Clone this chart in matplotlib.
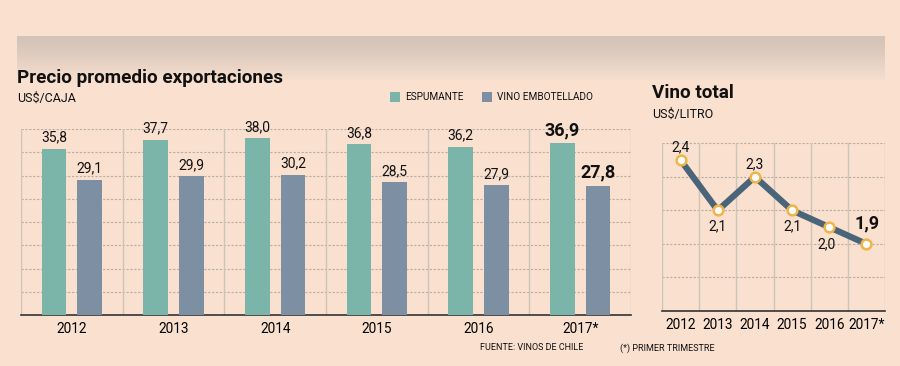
import numpy as np
import matplotlib
matplotlib.use("Agg")
import matplotlib.pyplot as plt

years = ["2012", "2013", "2014", "2015", "2016", "2017*"]
espumante = [35.8, 37.7, 38.0, 36.8, 36.2, 36.9]
embotellado = [29.1, 29.9, 30.2, 28.5, 27.9, 27.8]
vino_total = [2.4, 2.1, 2.3, 2.1, 2.0, 1.9]
vino_labels = ["2,4", "2,1", "2,3", "2,1", "2,0", "1,9"]

BG = "#F9E0CF"
GREEN = "#7BB5A9"
BLUE = "#7D90A3"
LINE = "#4A6579"
ORANGE = "#F0B448"
GRID = "#B8ADA4"
VLINE = "#CFC3B8"
FONT = ["Roboto", "DejaVu Sans"]

W, H = 900, 366
fig = plt.figure(figsize=(9, 3.66), dpi=100, facecolor=BG)


def px_axes(x0, y0, x1, y1):
    # pixel box (top-left origin) -> figure axes
    return fig.add_axes([x0 / W, 1 - y1 / H, (x1 - x0) / W, (y1 - y0) / H])


def ftext(x, y, s, **kw):
    kw.setdefault("family", FONT)
    kw.setdefault("color", "#111111")
    fig.text(x / W, 1 - y / H, s, **kw)


def fmt(v):
    return ("%.1f" % v).replace(".", ",")


# top banner with gradient
ban = px_axes(17, 36, 885, 80)
grad = np.linspace(0, 1, 100).reshape(-1, 1)
top = np.array([0xD4, 0xC3, 0xB8]) / 255
bot = np.array([0xF7, 0xDF, 0xCE]) / 255
img = top + (bot - top) * grad[..., None] ** 1.3
ban.imshow(img, aspect="auto", extent=[0, 1, 0, 1])
ban.axis("off")

# titles
ftext(17, 78, "Precio promedio exportaciones", fontsize=13.6, weight="bold", va="center")
ftext(17, 98, "US$/CAJA", fontsize=9, va="center")
ftext(652, 93, "Vino total", fontsize=13.6, weight="bold", va="center")
ftext(652, 114, "US$/LITRO", fontsize=9, va="center")

# legend
for x0, col, lab in [(390, GREEN, "ESPUMANTE"), (482, BLUE, "VINO EMBOTELLADO")]:
    sq = px_axes(x0, 92, x0 + 10, 102)
    sq.set_facecolor(col)
    sq.set_xticks([])
    sq.set_yticks([])
    for s in sq.spines.values():
        s.set_visible(False)
    ftext(x0 + 15, 97.5, lab, fontsize=7.2, va="center")

# footer
ftext(480, 348, "FUENTE: VINOS DE CHILE", fontsize=6.5, va="center")
ftext(620, 348, "(*) PRIMER TRIMESTRE", fontsize=6.5, va="center")

# bar chart
ax = px_axes(21, 129, 631, 315)
ax.set_facecolor(BG)
x = np.arange(len(years))
off, bw = 0.175, 0.245
ax.bar(x - off, espumante, bw, color=GREEN, zorder=3)
ax.bar(x + off, embotellado, bw, color=BLUE, zorder=3)
ax.set_xlim(-0.5, len(years) - 0.5)
ax.set_ylim(0, 40)
for yv in range(5, 41, 5):
    ax.axhline(yv, color=GRID, lw=0.8, ls=(0, (2, 1.5)), zorder=1)
for xv in np.arange(-0.5, len(years), 1.0):
    ax.axvline(xv, color=VLINE, lw=1.0, zorder=2)
for i in range(len(years)):
    last = i == len(years) - 1
    for xi, v in [(x[i] - off, espumante[i]), (x[i] + off, embotellado[i])]:
        ax.annotate(fmt(v), (xi, v), xytext=(0, 4), textcoords="offset pixels",
                    ha="center", va="bottom", family=FONT,
                    fontsize=13 if last else 10,
                    weight="bold" if last else "normal", color="#111111")
ax.set_xticks(x)
ax.set_xticklabels(years, family=FONT, fontsize=9.8)
ax.tick_params(axis="x", length=0, pad=5)
ax.set_yticks([])
for s in ["top", "left", "right"]:
    ax.spines[s].set_visible(False)
ax.spines["bottom"].set_color("#333333")
ax.spines["bottom"].set_linewidth(1.2)

# line chart
lx = px_axes(662, 143.3, 885, 311)
lx.set_facecolor(BG)
lx.plot(x, vino_total, color=LINE, lw=4.5, zorder=3, solid_capstyle="butt")
lx.plot(x, vino_total, ls="none", marker="o", ms=7, mfc="white", mec=ORANGE,
        mew=1.8, zorder=4)
lx.set_xlim(-0.5, len(years) - 0.5)
lx.set_ylim(1.5, 2.5)
for yv in [1.7, 1.9, 2.1, 2.3, 2.5]:
    lx.axhline(yv, color=GRID, lw=0.8, ls=(0, (2, 1.5)), zorder=1)
for xv in np.arange(-0.5, len(years), 1.0):
    lx.axvline(xv, color=VLINE, lw=1.0, zorder=2)
pos = [(0, 13), (0, -16), (0, 13), (0, -16), (-3, -17), (1, 20)]
for i, (v, lab) in enumerate(zip(vino_total, vino_labels)):
    last = i == len(years) - 1
    lx.annotate(lab, (x[i], v), xytext=pos[i], textcoords="offset pixels",
                ha="center", va="center", family=FONT,
                fontsize=13 if last else 10,
                weight="bold" if last else "normal", color="#111111")
lx.set_xticks(x)
lx.set_xticklabels(years, family=FONT, fontsize=9.8)
lx.tick_params(axis="x", length=0, pad=5)
lx.set_yticks([])
for s in ["top", "left", "right"]:
    lx.spines[s].set_visible(False)
lx.spines["bottom"].set_color("#333333")
lx.spines["bottom"].set_linewidth(1.2)

fig.savefig("out.png", dpi=100, facecolor=BG)
